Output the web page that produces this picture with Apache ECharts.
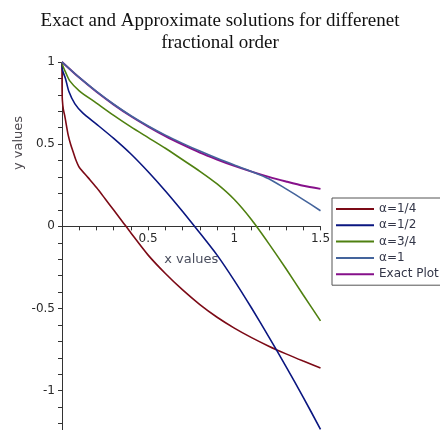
<!DOCTYPE html>
<html><head><meta charset="utf-8">
<script src="https://cdn.jsdelivr.net/npm/echarts@6/dist/echarts.min.js"></script>
<style>html,body{margin:0;padding:0;background:#fff}#c{width:440px;height:430px}</style>
</head><body><div id="c"></div>
<script>
const titleText = 'Exact and Approximate solutions for differenet\nfractional order';
const seriesNames = ['\u03b1=1/4', '\u03b1=1/2', '\u03b1=3/4', '\u03b1=1', 'Exact Plot'];
const xAxisName = 'x values';
const yAxisName = 'y values';
const xTickLabels = ['0.5', '1', '1.5'];
const yTickLabels = ['-1', '-0.5', '0', '0.5', '1'];

const xA14 = [0, 0.0003, 0.002, 0.008, 0.016, 0.035, 0.05, 0.064, 0.08, 0.1, 0.15, 0.2, 0.25, 0.3, 0.35, 0.4, 0.5, 0.6, 0.7, 0.8, 0.9, 1.0, 1.1, 1.2, 1.3, 1.4, 1.5];
const yA14 = [1, 0.85, 0.77, 0.71, 0.672, 0.56, 0.5, 0.455, 0.405, 0.36, 0.298, 0.236, 0.168, 0.099, 0.03, -0.04, -0.175, -0.287, -0.387, -0.476, -0.553, -0.619, -0.677, -0.729, -0.776, -0.82, -0.862];

const xA12 = [0, 0.003, 0.02, 0.04, 0.075, 0.12, 0.2, 0.3, 0.4, 0.5, 0.6, 0.7, 0.8, 0.9, 1.0, 1.1, 1.2, 1.3, 1.4, 1.5];
const yA12 = [1, 0.95, 0.9, 0.82, 0.745, 0.69, 0.622, 0.535, 0.44, 0.332, 0.215, 0.09, -0.04, -0.175, -0.33, -0.497, -0.672, -0.853, -1.04, -1.235];

const xA34 = [0, 0.005, 0.02, 0.045, 0.1, 0.2, 0.3, 0.4, 0.5, 0.6, 0.7, 0.8, 0.9, 1.0, 1.1, 1.2, 1.3, 1.4, 1.5];
const yA34 = [1, 0.975, 0.94, 0.885, 0.825, 0.75, 0.675, 0.605, 0.54, 0.475, 0.405, 0.335, 0.258, 0.163, 0.04, -0.105, -0.258, -0.418, -0.575];

const xA1 = [0, 0.1, 0.2, 0.3, 0.4, 0.5, 0.6, 0.7, 0.8, 0.9, 1.0, 1.1, 1.2, 1.3, 1.4, 1.5];
const yA1 = [1, 0.906, 0.821, 0.743, 0.673, 0.611, 0.555, 0.505, 0.458, 0.414, 0.373, 0.334, 0.29, 0.228, 0.163, 0.095];

const xExact = [0, 0.1, 0.2, 0.3, 0.4, 0.5, 0.6, 0.7, 0.8, 0.9, 1.0, 1.1, 1.2, 1.3, 1.4, 1.5];
const yExact = [1, 0.905, 0.819, 0.741, 0.670, 0.607, 0.549, 0.497, 0.449, 0.407, 0.368, 0.333, 0.301, 0.273, 0.247, 0.228];

const colors = ['#7c0a16', '#0a1680', '#4f8010', '#44649c', '#86108a'];

function zip(xs, ys) { return xs.map((x, i) => [x, ys[i]]); }
const allX = [xA14, xA12, xA34, xA1, xExact];
const allY = [yA14, yA12, yA34, yA1, yExact];

const yMin = -1.3, yMax = 1;
const gridTop = 62, gridHeight = 378;
const zeroOffset = -(gridHeight * (0 - yMin) / (yMax - yMin));

const chart = echarts.init(document.getElementById('c'), null, {renderer: 'canvas'});
const labelFont = 'DejaVu Sans';
function isLabel(v, list) {
  return list.indexOf(String(Math.round(v * 100) / 100)) >= 0;
}
chart.setOption({
  animation: false,
  backgroundColor: '#fff',
  color: colors,
  title: {
    text: titleText,
    left: 'center',
    top: 10,
    padding: 0,
    textStyle: {fontFamily: 'Liberation Serif', fontSize: 19, fontWeight: 'normal', color: '#111', lineHeight: 22}
  },
  grid: {left: 62, top: gridTop, width: 258.5, height: gridHeight, containLabel: false, outerBoundsMode: 'none'},
  xAxis: {
    type: 'value', min: 0, max: 1.5, interval: 0.1,
    position: 'bottom', offset: zeroOffset,
    name: xAxisName, nameLocation: 'middle', nameGap: 27,
    nameTextStyle: {fontFamily: labelFont, fontSize: 13, color: '#4a4e5e'},
    axisLine: {onZero: false, lineStyle: {color: '#333', width: 1}},
    axisTick: {show: true, length: 4, lineStyle: {color: '#333'}},
    splitLine: {show: false},
    axisLabel: {
      margin: 7, fontFamily: labelFont, fontSize: 12, color: '#2a2a2a',
      formatter: v => isLabel(v, xTickLabels) ? String(Math.round(v * 100) / 100) : ''
    }
  },
  yAxis: {
    type: 'value', min: yMin, max: yMax, interval: 0.1,
    axisLine: {onZero: false, lineStyle: {color: '#333', width: 1}},
    axisTick: {show: true, length: 4, lineStyle: {color: '#333'}},
    splitLine: {show: false},
    axisLabel: {
      margin: 7, fontFamily: labelFont, fontSize: 12, color: '#2a2a2a',
      formatter: v => isLabel(v, yTickLabels) ? String(Math.round(v * 100) / 100) : ''
    }
  },
  legend: {
    orient: 'vertical', left: 332, top: 198,
    padding: [3, 4, 3, 4],
    itemWidth: 38, itemHeight: 2, itemGap: 0.3,
    icon: 'rect',
    borderColor: '#555', borderWidth: 1, backgroundColor: '#fff',
    textStyle: {fontFamily: labelFont, fontSize: 12, color: '#333648', lineHeight: 16}
  },
  graphic: [{
    type: 'text', x: 19, y: 143, rotation: Math.PI / 2,
    style: {text: yAxisName, font: '13px "DejaVu Sans"', fill: '#4e4a50', align: 'center', verticalAlign: 'middle'}
  }],
  series: seriesNames.map((name, i) => ({
    name: name, type: 'line', data: zip(allX[i], allY[i]),
    showSymbol: false, symbol: 'none', smooth: 0.25,
    lineStyle: {width: i === 4 ? 2 : 1.6, color: colors[i]},
    z: i === 3 ? 3 : 2
  }))
});
</script>
</body></html>
